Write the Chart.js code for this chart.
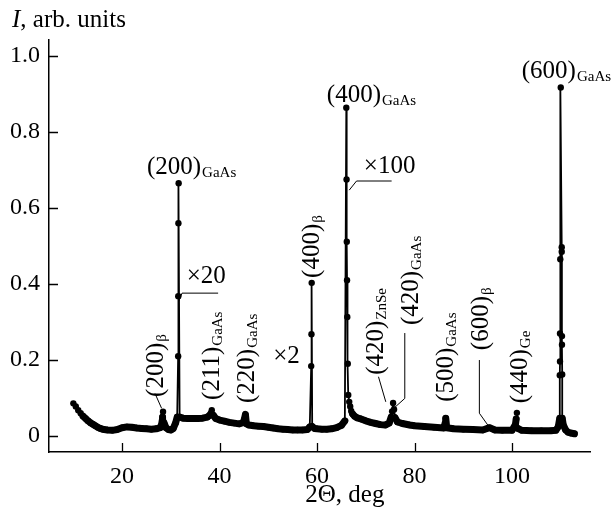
<!DOCTYPE html>
<html>
<head>
<meta charset="utf-8">
<script src="https://cdn.jsdelivr.net/npm/chart.js@4"></script>
<style>
  html, body { margin: 0; padding: 0; background: #fff; }
  #wrap { width: 615px; height: 516px; }
</style>
</head>
<body>
<div id="wrap"><canvas id="xrdChart"></canvas></div>
<script>
// 2Theta (deg) and intensity
const twoTheta = [
  10.0, 10.5, 11.0, 11.5, 12.0, 12.5, 13.0, 13.5, 14.0, 14.5, 15.0, 15.5, 16.0, 17.0, 18.0, 19.0,
  20.0, 21.0, 22.0, 23.0, 24.0, 25.0, 26.0, 27.0, 27.8, 28.1, 28.25, 28.3, 28.4, 28.6, 29.0, 29.5,
  30.0, 30.5, 31.0, 31.3, 31.5, 31.52, 31.55, 31.6, 31.8, 32.5, 33.5, 34.5, 35.5, 36.5, 37.5, 38.0,
  38.2, 38.4, 38.7, 39.2, 40.0, 41.0, 42.0, 43.0, 44.0, 44.8, 45.1, 45.3, 45.5, 46.0, 47.0, 48.0,
  49.0, 50.0, 51.0, 52.0, 53.0, 54.0, 55.0, 56.0, 57.0, 58.0, 58.5, 58.8, 58.85, 58.9, 59.0, 59.5,
  60.0, 61.0, 62.0, 63.0, 64.0, 65.0, 65.7, 66.0, 66.05, 66.1, 66.15, 66.2, 66.3, 66.4, 66.6, 66.8,
  67.0, 67.3, 67.7, 68.2, 69.0, 70.0, 71.0, 72.0, 73.0, 74.0, 74.8, 75.2, 75.4, 75.6, 75.8, 76.0,
  76.5, 77.5, 79.0, 80.0, 82.0, 84.0, 86.0, 86.3, 86.4, 86.6, 88.0, 90.0, 92.0, 94.0, 95.4, 96.5,
  98.0, 100.0, 100.7, 100.85, 101.0, 101.2, 102.0, 104.0, 106.0, 108.0, 109.0, 109.5, 109.8, 109.8,
  109.85, 109.85, 109.9, 110.0, 110.2, 110.2, 110.25, 110.25, 110.3, 110.3, 110.5, 111.0, 111.5, 112.0,
  112.8
];
const intensity = [
  0.086, 0.078, 0.068, 0.060, 0.052, 0.046, 0.040, 0.035, 0.031, 0.027, 0.023, 0.020, 0.018, 0.016, 0.015, 0.017,
  0.022, 0.024, 0.023, 0.021, 0.020, 0.019, 0.018, 0.019, 0.022, 0.030, 0.042, 0.050, 0.064, 0.035, 0.022, 0.017,
  0.016, 0.020, 0.035, 0.050, 0.210, 0.368, 0.560, 0.665, 0.050, 0.047, 0.046, 0.046, 0.046, 0.047, 0.050, 0.055,
  0.060, 0.068, 0.055, 0.046, 0.042, 0.039, 0.036, 0.034, 0.032, 0.035, 0.045, 0.057, 0.032, 0.029, 0.027, 0.026,
  0.025, 0.023, 0.021, 0.019, 0.018, 0.017, 0.016, 0.016, 0.016, 0.017, 0.024, 0.184, 0.268, 0.403, 0.025, 0.020,
  0.019, 0.018, 0.018, 0.019, 0.022, 0.028, 0.040, 0.864, 0.675, 0.511, 0.410, 0.313, 0.190, 0.108, 0.090, 0.078,
  0.066, 0.058, 0.052, 0.048, 0.045, 0.040, 0.036, 0.033, 0.030, 0.029, 0.034, 0.050, 0.065, 0.087, 0.070, 0.048,
  0.037, 0.033, 0.029, 0.027, 0.025, 0.023, 0.021, 0.035, 0.047, 0.022, 0.019, 0.018, 0.017, 0.016, 0.022, 0.016,
  0.015, 0.015, 0.030, 0.045, 0.061, 0.020, 0.015, 0.014, 0.014, 0.014, 0.015, 0.025, 0.047, 0.160,
  0.196, 0.270, 0.465, 0.917, 0.497, 0.485, 0.263, 0.240, 0.162, 0.047, 0.030, 0.016, 0.010, 0.008,
  0.006
];

const xTicks = [20, 40, 60, 80, 100];
const yTicks = [0, 0.2, 0.4, 0.6, 0.8, 1.0];

// peak labels: text, subscript, anchor in data units, rotated or not
const peakLabels = [
  { text: '(200)', sub: 'GaAs', x: 25.1, y: 0.689, rot: false },
  { text: '(400)', sub: 'GaAs', x: 62.0, y: 0.879, rot: false },
  { text: '(600)', sub: 'GaAs', x: 102.0, y: 0.942, rot: false },
  { text: '(200)', sub: 'β', x: 28.4, y: 0.103, rot: true },
  { text: '(211)', sub: 'GaAs', x: 39.9, y: 0.095, rot: true },
  { text: '(220)', sub: 'GaAs', x: 47.1, y: 0.087, rot: true },
  { text: '(400)', sub: 'β', x: 60.3, y: 0.416, rot: true },
  { text: '(420)', sub: 'ZnSe', x: 73.5, y: 0.161, rot: true },
  { text: '(420)', sub: 'GaAs', x: 80.8, y: 0.292, rot: true },
  { text: '(500)', sub: 'GaAs', x: 87.8, y: 0.090, rot: true },
  { text: '(600)', sub: 'β', x: 95.0, y: 0.226, rot: true },
  { text: '(440)', sub: 'Ge', x: 103.0, y: 0.086, rot: true },
  { text: '×20', sub: '', x: 33.25, y: 0.403, rot: false },
  { text: '×2', sub: '', x: 51.0, y: 0.192, rot: false },
  { text: '×100', sub: '', x: 69.6, y: 0.692, rot: false }
];

const leaders = [
  [[31.57, 0.353], [32.3, 0.376], [39.7, 0.376]],
  [[66.6, 0.647], [68.1, 0.671], [75.3, 0.671]],
  [[26.75, 0.112], [28.1, 0.073]],
  [[72.6, 0.156], [74.1, 0.090]],
  [[78.0, 0.271], [78.0, 0.099], [76.0, 0.076]],
  [[93.3, 0.200], [93.3, 0.060], [95.3, 0.024]]
];

const serif = "'Liberation Serif', 'Times New Roman', serif";
Chart.defaults.font.family = serif;

const annotate = {
  id: 'annotate',
  afterDraw(chart) {
    const ctx = chart.ctx;
    const xs = chart.scales.x, ys = chart.scales.y;
    const area = chart.chartArea;
    ctx.save();
    ctx.strokeStyle = '#000';
    ctx.fillStyle = '#000';

    // inward tick marks
    ctx.lineWidth = 1.3;
    ctx.beginPath();
    yTicks.forEach(v => {
      const py = Math.round(ys.getPixelForValue(v)) + 0.5;
      ctx.moveTo(area.left, py);
      ctx.lineTo(area.left + 9, py);
    });
    xTicks.forEach(v => {
      const px = Math.round(xs.getPixelForValue(v)) + 0.5;
      ctx.moveTo(px, area.bottom);
      ctx.lineTo(px, area.bottom - 9);
    });
    ctx.stroke();

    // leader lines
    ctx.lineWidth = 1;
    leaders.forEach(pts => {
      ctx.beginPath();
      pts.forEach((p, i) => {
        const px = xs.getPixelForValue(p[0]), py = ys.getPixelForValue(p[1]);
        if (i === 0) ctx.moveTo(px, py); else ctx.lineTo(px, py);
      });
      ctx.stroke();
    });

    // peak labels
    ctx.textBaseline = 'alphabetic';
    ctx.textAlign = 'left';
    peakLabels.forEach(l => {
      const px = xs.getPixelForValue(l.x), py = ys.getPixelForValue(l.y);
      ctx.save();
      ctx.translate(px, py);
      if (l.rot) ctx.rotate(-Math.PI / 2);
      ctx.font = '25px ' + serif;
      ctx.fillText(l.text, 0, 0);
      const w = ctx.measureText(l.text).width;
      if (l.sub) {
        ctx.font = '15px ' + serif;
        ctx.fillText(l.sub, w + 1, 3);
      }
      ctx.restore();
    });

    // axis titles
    ctx.font = 'italic 25px ' + serif;
    ctx.fillText('I', area.left - 37, area.top - 13);
    const iw = ctx.measureText('I').width;
    ctx.font = '25px ' + serif;
    ctx.fillText(', arb. units', area.left - 37 + iw, area.top - 13);

    ctx.textAlign = 'center';
    ctx.fillText('2Θ, deg', xs.getPixelForValue(65.7), area.bottom + 50);
    ctx.restore();
  }
};

const points = twoTheta.map((x, i) => ({ x: x, y: intensity[i] }));

new Chart(document.getElementById('xrdChart'), {
  type: 'line',
  data: {
    datasets: [{
      data: points,
      borderColor: '#000',
      backgroundColor: '#000',
      borderWidth: 1.8,
      borderJoinStyle: 'round',
      borderCapStyle: 'round',
      pointRadius: 3.2,
      pointBackgroundColor: '#000',
      pointBorderWidth: 0,
      tension: 0,
      fill: false,
      segment: {
        // dense background reads as a thick dotted band
        borderWidth: c => (c.p0.parsed.y < 0.06 && c.p1.parsed.y < 0.06) ? 7 : 1.8
      }
    }]
  },
  options: {
    responsive: true,
    maintainAspectRatio: false,
    animation: false,
    parsing: false,
    layout: { padding: { top: 40, right: 25, bottom: 0, left: 0 } },
    plugins: { legend: { display: false }, tooltip: { enabled: false } },
    scales: {
      x: {
        type: 'linear',
        min: 5, max: 116,
        afterFit: s => { s.height = 64; },
        afterBuildTicks: s => { s.ticks = xTicks.map(v => ({ value: v })); },
        grid: { display: false, drawTicks: false },
        border: { display: true, color: '#000', width: 1.5 },
        ticks: { color: '#000', padding: 10, maxRotation: 0, font: { family: serif, size: 24 } }
      },
      y: {
        type: 'linear',
        min: -0.042, max: 1.042,
        afterFit: s => { s.width = 49; },
        afterBuildTicks: s => { s.ticks = yTicks.map(v => ({ value: v })); },
        grid: { display: false, drawTicks: false },
        border: { display: true, color: '#000', width: 1.5 },
        ticks: {
          color: '#000', padding: 9, font: { family: serif, size: 24 },
          callback: v => v === 0 ? '0' : v.toFixed(1)
        }
      }
    }
  },
  plugins: [annotate]
});
</script>
</body>
</html>
